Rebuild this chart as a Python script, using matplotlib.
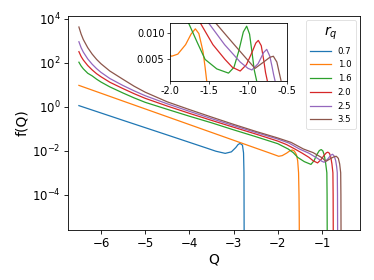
import matplotlib
matplotlib.use("Agg")
import matplotlib.pyplot as plt
from matplotlib.ticker import NullLocator, FormatStrFormatter

# ---- data ----
rq_labels = ["0.7", "1.0", "1.6", "2.0", "2.5", "3.5"]

q_07 = [-6.5, -5.5, -4.5, -3.6, -3.4, -3.19, -3.05, -2.95, -2.90, -2.855, -2.80, -2.775, -2.765, -2.76]
f_07 = [1.12, 0.24, 0.052, 1.3e-2, 9.5e-3, 7.6e-3, 8.9e-3, 1.4e-2, 1.9e-2, 2.15e-2, 1.8e-2, 8e-3, 1e-3, 1e-7]

q_10 = [-6.5, -5.5, -4.5, -3.5, -2.5, -2.2, -2.0, -1.98, -1.90, -1.80, -1.73, -1.675, -1.63, -1.60, -1.577,
        -1.55, -1.53, -1.52, -1.515, -1.51]
f_10 = [9.3, 1.8, 0.35, 6.8e-2, 1.32e-2, 8.1e-3, 5.8e-3, 5.6e-3, 6.0e-3, 7.8e-3, 9.8e-3, 1.08e-2, 9.9e-3, 8.0e-3,
        6.5e-3, 3.5e-3, 1.0e-3, 1e-4, 1e-5, 1e-7]

q_16 = [-6.5, -6.45, -6.4, -6.3, -6.2, -6.1, -6.0, -5.8, -5.5, -5.25, -5.0, -4.5, -4.0, -3.5, -3.0, -2.5,
        -2.0, -1.765, -1.65, -1.55, -1.4, -1.25, -1.18, -1.12, -1.06, -1.017, -0.98, -0.95, -0.92, -0.89,
        -0.885, -0.88]
f_16 = [105, 70.8, 52.5, 33.1, 25.1, 17.8, 13.2, 7.94, 4.17, 2.51, 1.58, 0.76, 0.37, 0.186, 0.089, 0.0437,
        0.0209, 0.012, 0.0082, 0.005, 0.0032, 0.0024, 0.0035, 0.0065, 0.0102, 0.0113, 0.0098, 0.0065, 0.0030,
        0.001, 1e-4, 1e-7]

q_20 = [-6.5, -6.45, -6.4, -6.3, -6.2, -6.1, -6.0, -5.8, -5.5, -5.25, -5.0, -4.5, -4.0, -3.5, -3.0, -2.5,
        -2.0, -1.8, -1.615, -1.45, -1.295, -1.2, -1.1, -1.02, -0.95, -0.90, -0.868, -0.83, -0.80, -0.775,
        -0.753, -0.748, -0.743]
f_20 = [316, 191, 132, 74.1, 46.8, 31.6, 22.9, 12.9, 6.61, 3.89, 2.40, 1.07, 0.50, 0.24, 0.117, 0.0575,
        0.0275, 0.019, 0.012, 0.0078, 0.005, 0.0035, 0.0028, 0.0040, 0.0063, 0.0081, 0.0086, 0.0076, 0.005,
        0.0025, 0.001, 1e-4, 1e-7]

q_25 = [-6.5, -6.45, -6.4, -6.3, -6.2, -6.1, -6.0, -5.8, -5.5, -5.25, -5.0, -4.5, -4.0, -3.5, -3.0, -2.5,
        -2.0, -1.75, -1.51, -1.3, -1.1, -1.0, -0.95, -0.87, -0.80, -0.76, -0.72, -0.69, -0.67, -0.654,
        -0.649, -0.644]
f_25 = [891, 479, 302, 148, 85.1, 53.7, 36.3, 19.1, 9.12, 5.25, 3.16, 1.35, 0.617, 0.288, 0.138, 0.0676,
        0.0339, 0.0224, 0.012, 0.0078, 0.0045, 0.0033, 0.0030, 0.0042, 0.0063, 0.0069, 0.0056, 0.0035, 0.002,
        0.001, 1e-4, 1e-7]

q_35 = [-6.5, -6.45, -6.4, -6.3, -6.2, -6.1, -6.0, -5.8, -5.5, -5.25, -5.0, -4.5, -4.0, -3.5, -3.0, -2.5,
        -2.0, -1.7, -1.42, -1.2, -1.0, -0.91, -0.80, -0.72, -0.675, -0.63, -0.60, -0.577, -0.572, -0.567]
f_35 = [4170, 1995, 1122, 479, 245, 141, 89.1, 41.7, 17.4, 8.51, 4.57, 1.66, 0.741, 0.339, 0.158, 0.0759,
        0.038, 0.024, 0.012, 0.0082, 0.0048, 0.0033, 0.0045, 0.0054, 0.0056, 0.0045, 0.0025, 0.001, 1e-4, 1e-7]

series_q = [q_07, q_10, q_16, q_20, q_25, q_35]
series_f = [f_07, f_10, f_16, f_20, f_25, f_35]
colors = ["#1f77b4", "#ff7f0e", "#2ca02c", "#d62728", "#9467bd", "#8c564b"]

main_xticks = [-6, -5, -4, -3, -2, -1]
main_yticks = [1e-4, 1e-2, 1e0, 1e2, 1e4]
inset_xticks = [-2.0, -1.5, -1.0, -0.5]
inset_yticks = [0.005, 0.010]

# ---- figure ----
fig = plt.figure(figsize=(3.74, 2.8), dpi=100)
ax = fig.add_axes([67.5 / 374, 1 - 230 / 280, (360 - 67.5) / 374, (230 - 16) / 280])

lw = 0.9
for q, f, c, lab in zip(series_q, series_f, colors, rq_labels):
    ax.plot(q, f, color=c, lw=lw, label=lab)

ax.set_yscale("log")
ax.set_xlim(-6.758, -0.14)
ax.set_ylim(10 ** -5.6, 10 ** 4.12)
ax.set_xticks(main_xticks)
ax.set_yticks(main_yticks)
ax.yaxis.set_minor_locator(NullLocator())
ax.tick_params(labelsize=8.5, width=0.6, length=3, pad=2)
ax.set_xlabel("Q", fontsize=10, labelpad=2)
ax.set_ylabel("f(Q)", fontsize=10, labelpad=2)
for s in ax.spines.values():
    s.set_linewidth(0.6)

leg = ax.legend(title="$r_q$", loc="upper right", fontsize=6.2, title_fontsize=10,
                frameon=True, borderaxespad=0.5, handlelength=2.4, labelspacing=0.55,
                borderpad=0.5)
leg.get_frame().set_linewidth(0.5)

# ---- inset ----
axi = fig.add_axes([170 / 374, 1 - 80.5 / 280, 117 / 374, 58 / 280])
for q, f, c in zip(series_q, series_f, colors):
    axi.plot(q, f, color=c, lw=lw)
axi.set_xlim(-2.0, -0.5)
axi.set_ylim(0.001, 0.012)
axi.set_xticks(inset_xticks)
axi.set_yticks(inset_yticks)
axi.xaxis.set_major_formatter(FormatStrFormatter("%.1f"))
axi.yaxis.set_major_formatter(FormatStrFormatter("%.3f"))
axi.tick_params(labelsize=7, width=0.5, length=2.5, pad=1.5)
for s in axi.spines.values():
    s.set_linewidth(0.6)

fig.savefig("out.png", dpi=100)
